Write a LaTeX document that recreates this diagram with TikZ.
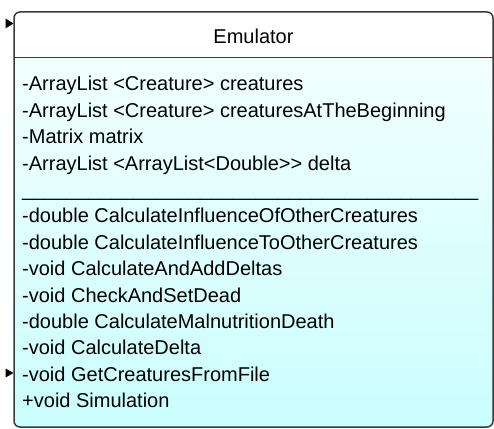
\documentclass[tikz,border=0pt]{standalone}
\usepackage{fontspec}
\setmainfont{Liberation Sans}
\definecolor{bodytop}{HTML}{F2FFFF}
\definecolor{bodybot}{HTML}{CAFEFE}
\definecolor{bordercol}{HTML}{3A3A3A}
\begin{document}
\begin{tikzpicture}[x=1pt,y=-1pt,
  txt/.style={anchor=base west, inner sep=0pt, font=\fontsize{20}{24}\selectfont, text=black},
  border/.style={draw=bordercol, line width=1.5pt},
  tip/.style={fill=black}]
\useasboundingbox (0,0) rectangle (494,428);
\begin{scope}
  \clip[rounded corners=6pt] (14,12) rectangle (493,427);
  \shade[top color=bodytop, bottom color=bodybot] (14,57.5) rectangle (493,427);
  \fill[white] (14,12) rectangle (493,57.5);
\end{scope}
\draw[border, rounded corners=6pt] (14,12) rectangle (493,427);
\draw[border, line width=1.2pt] (14,57.5) -- (493,57.5);
% incoming arrow tips
\fill[tip] (13.5,23.5) -- (5.5,18.5) -- (5.5,28.5) -- cycle;
\fill[tip] (13.5,373) -- (5.5,368.5) -- (5.5,377.5) -- cycle;
% title
\node[anchor=base, inner sep=0pt, font=\fontsize{20}{24}\selectfont] (title) at (253.5,43.3) {Emulator};
% members
\node[txt] (a1) at (22,90.8) {-ArrayList <Creature> creatures};
\node[txt] (a2) at (22,117.2) {-ArrayList <Creature> creaturesAtTheBeginning};
\node[txt] (a3) at (22,143.6) {-Matrix matrix};
\node[txt] (a4) at (22,170.0) {-ArrayList <ArrayList<Double>{}> delta};
\node[txt] (sep) at (22,196.4) {\_\_\_\_\_\_\_\_\_\_\_\_\_\_\_\_\_\_\_\_\_\_\_\_\_\_\_\_\_\_\_\_\_\_\_\_\_\_\_\_\_};
\node[txt] (m1) at (22,222.8) {-double CalculateInfluenceOfOtherCreatures};
\node[txt] (m2) at (22,249.2) {-double CalculateInfluenceToOtherCreatures};
\node[txt] (m3) at (22,275.6) {-void CalculateAndAddDeltas};
\node[txt] (m4) at (22,302.0) {-void CheckAndSetDead};
\node[txt] (m5) at (22,328.4) {-double CalculateMalnutritionDeath};
\node[txt] (m6) at (22,354.8) {-void CalculateDelta};
\node[txt] (m7) at (22,381.2) {-void GetCreaturesFromFile};
\node[txt] (m8) at (22,407.6) {+void Simulation};
\end{tikzpicture}
\end{document}
